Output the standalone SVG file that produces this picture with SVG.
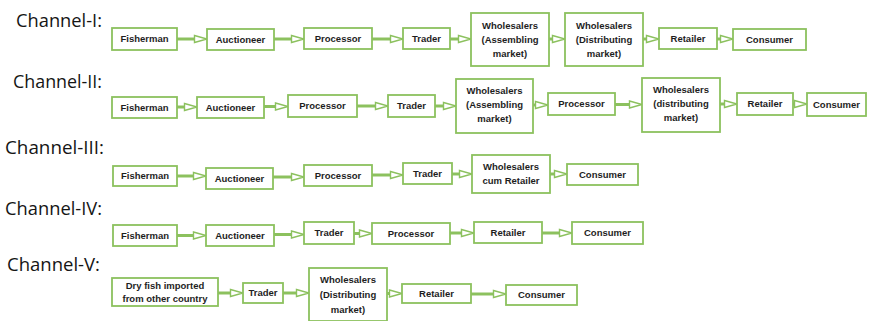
<svg xmlns="http://www.w3.org/2000/svg" width="869" height="321" viewBox="0 0 869 321">
  <style>
    .lbl { font-family: "Open Sans", "Liberation Sans", sans-serif; font-size: 18px; fill: #151515; }
    .box rect { fill: #ffffff; stroke: #8cc15e; stroke-width: 1.8; }
    .box text { font-family: "Liberation Sans", Arial, sans-serif; font-weight: bold; font-size: 9.5px; fill: #1e1e1e; text-anchor: middle; }
    .conn path { fill: none; stroke: #8cc15e; stroke-width: 3; }
  </style>
  <defs>
    <marker id="tri" markerUnits="userSpaceOnUse" markerWidth="16" markerHeight="10" refX="0" refY="5" orient="auto" overflow="visible">
      <path d="M0.5,1.5 L13,5 L0.5,8.5 Z" fill="#ffffff" stroke="#8cc15e" stroke-width="1.4"/>
    </marker>
  </defs>

  <rect width="869" height="321" fill="#ffffff"/>

  <!-- channel labels -->
  <text class="lbl" x="16" y="27" textLength="86" lengthAdjust="spacingAndGlyphs">Channel-I:</text>
  <text class="lbl" x="13" y="88" textLength="89" lengthAdjust="spacingAndGlyphs">Channel-II:</text>
  <text class="lbl" x="5" y="154" textLength="99" lengthAdjust="spacingAndGlyphs">Channel-III:</text>
  <text class="lbl" x="5" y="215" textLength="97" lengthAdjust="spacingAndGlyphs">Channel-IV:</text>
  <text class="lbl" x="7" y="271" textLength="93" lengthAdjust="spacingAndGlyphs">Channel-V:</text>

  <!-- connectors: line up to the arrowhead base, hollow triangle touches the next box -->
  <g id="connectors" class="conn">
    <!-- Channel I -->
    <path d="M177,39 H194" marker-end="url(#tri)"/>
    <path d="M274,39 H291" marker-end="url(#tri)"/>
    <path d="M372,39 H390" marker-end="url(#tri)"/>
    <path d="M450,39 H458" marker-end="url(#tri)"/>
    <path d="M549,39 H552" marker-end="url(#tri)"/>
    <path d="M643,39 H646" marker-end="url(#tri)"/>
    <path d="M717,39 H720" marker-end="url(#tri)"/>
    <!-- Channel II -->
    <path d="M177,107 H184" marker-end="url(#tri)"/>
    <path d="M264,106.5 H275" marker-end="url(#tri)"/>
    <path d="M357,106 H375" marker-end="url(#tri)"/>
    <path d="M435,106 H443" marker-end="url(#tri)"/>
    <path d="M533,105 H535" marker-end="url(#tri)"/>
    <path d="M615,104.5 H629" marker-end="url(#tri)"/>
    <path d="M720,104 H724" marker-end="url(#tri)"/>
    <path d="M793,104 H794" marker-end="url(#tri)"/>
    <!-- Channel III -->
    <path d="M177,176 H193" marker-end="url(#tri)"/>
    <path d="M273,177 H291" marker-end="url(#tri)"/>
    <path d="M372,175 H390" marker-end="url(#tri)"/>
    <path d="M452,174 H459" marker-end="url(#tri)"/>
    <path d="M550,174 H554" marker-end="url(#tri)"/>
    <!-- Channel IV -->
    <path d="M177,235.5 H193" marker-end="url(#tri)"/>
    <path d="M274,234.5 H291" marker-end="url(#tri)"/>
    <path d="M354,233.5 H359" marker-end="url(#tri)"/>
    <path d="M450,233 H461" marker-end="url(#tri)"/>
    <path d="M542,233 H559" marker-end="url(#tri)"/>
    <!-- Channel V -->
    <path d="M218,293 H230" marker-end="url(#tri)"/>
    <path d="M283,293 H296" marker-end="url(#tri)"/>
    <path d="M387,293.5 H389" marker-end="url(#tri)"/>
    <path d="M471,294 H493" marker-end="url(#tri)"/>
  </g>

  <!-- Channel I nodes -->
  <g id="c1-fisherman" class="box"><rect x="112" y="28" width="65" height="22"/><text x="144.5" y="42.4">Fisherman</text></g>
  <g id="c1-auctioneer" class="box"><rect x="207" y="29" width="67" height="21"/><text x="240.5" y="42.9">Auctioneer</text></g>
  <g id="c1-processor" class="box"><rect x="304" y="28" width="68" height="21"/><text x="338" y="41.9">Processor</text></g>
  <g id="c1-trader" class="box"><rect x="403" y="28" width="47" height="21"/><text x="426.5" y="41.9">Trader</text></g>
  <g id="c1-wholesalers-assembling" class="box"><rect x="471" y="13" width="78" height="53"/>
    <text x="510" y="28.9">Wholesalers</text><text x="510" y="42.9">(Assembling</text><text x="510" y="56.9">market)</text></g>
  <g id="c1-wholesalers-distributing" class="box"><rect x="565" y="13" width="78" height="53"/>
    <text x="604" y="28.9">Wholesalers</text><text x="604" y="42.9">(Distributing</text><text x="604" y="56.9">market)</text></g>
  <g id="c1-retailer" class="box"><rect x="659" y="28" width="58" height="21"/><text x="688" y="41.9">Retailer</text></g>
  <g id="c1-consumer" class="box"><rect x="733" y="29" width="73" height="21"/><text x="769.5" y="42.9">Consumer</text></g>

  <!-- Channel II nodes -->
  <g id="c2-fisherman" class="box"><rect x="112" y="97" width="65" height="21"/><text x="144.5" y="110.9">Fisherman</text></g>
  <g id="c2-auctioneer" class="box"><rect x="197" y="97" width="67" height="21"/><text x="230.5" y="110.9">Auctioneer</text></g>
  <g id="c2-processor" class="box"><rect x="288" y="95" width="69" height="22"/><text x="322.5" y="109.4">Processor</text></g>
  <g id="c2-trader" class="box"><rect x="388" y="95" width="47" height="22"/><text x="411.5" y="109.4">Trader</text></g>
  <g id="c2-wholesalers-assembling" class="box"><rect x="456" y="79" width="77" height="54"/>
    <text x="494.5" y="93.5">Wholesalers</text><text x="494.5" y="107.5">(Assembling</text><text x="494.5" y="121.5">market)</text></g>
  <g id="c2-processor-2" class="box"><rect x="548" y="93" width="67" height="22"/><text x="581.5" y="107.4">Processor</text></g>
  <g id="c2-wholesalers-distributing" class="box"><rect x="642" y="78" width="78" height="54"/>
    <text x="681" y="92.5">Wholesalers</text><text x="681" y="106.5">(distributing</text><text x="681" y="120.5">market)</text></g>
  <g id="c2-retailer" class="box"><rect x="737" y="93" width="56" height="22"/><text x="765" y="107.4">Retailer</text></g>
  <g id="c2-consumer" class="box"><rect x="807" y="93" width="59" height="23"/><text x="836.5" y="107.9">Consumer</text></g>

  <!-- Channel III nodes -->
  <g id="c3-fisherman" class="box"><rect x="113" y="166" width="64" height="20"/><text x="145" y="179.4">Fisherman</text></g>
  <g id="c3-auctioneer" class="box"><rect x="206" y="168" width="67" height="21"/><text x="239.5" y="181.9">Auctioneer</text></g>
  <g id="c3-processor" class="box"><rect x="304" y="165" width="68" height="21"/><text x="338" y="178.9">Processor</text></g>
  <g id="c3-trader" class="box"><rect x="403" y="163" width="49" height="21"/><text x="427.5" y="176.9">Trader</text></g>
  <g id="c3-wholesalers-retailer" class="box"><rect x="472" y="155" width="78" height="38"/>
    <text x="511" y="170.4">Wholesalers</text><text x="511" y="184.4">cum Retailer</text></g>
  <g id="c3-consumer" class="box"><rect x="567" y="164" width="71" height="21"/><text x="602.5" y="177.9">Consumer</text></g>

  <!-- Channel IV nodes -->
  <g id="c4-fisherman" class="box"><rect x="113" y="225" width="64" height="21"/><text x="145" y="238.9">Fisherman</text></g>
  <g id="c4-auctioneer" class="box"><rect x="206" y="225" width="68" height="21"/><text x="240" y="238.9">Auctioneer</text></g>
  <g id="c4-trader" class="box"><rect x="304" y="222" width="50" height="22"/><text x="329" y="236.4">Trader</text></g>
  <g id="c4-processor" class="box"><rect x="372" y="223" width="78" height="21"/><text x="411" y="236.9">Processor</text></g>
  <g id="c4-retailer" class="box"><rect x="474" y="222" width="68" height="21"/><text x="508" y="235.9">Retailer</text></g>
  <g id="c4-consumer" class="box"><rect x="572" y="222" width="71" height="22"/><text x="607.5" y="236.4">Consumer</text></g>

  <!-- Channel V nodes -->
  <g id="c5-dry-fish" class="box"><rect x="112" y="278" width="106" height="28"/>
    <text x="165" y="289">Dry fish imported</text><text x="165" y="302">from other country</text></g>
  <g id="c5-trader" class="box"><rect x="243" y="283" width="40" height="20"/><text x="263" y="296.4">Trader</text></g>
  <g id="c5-wholesalers-distributing" class="box"><rect x="309" y="268" width="78" height="53"/>
    <text x="348" y="283.4">Wholesalers</text><text x="348" y="298.4">(Distributing</text><text x="348" y="313.4">market)</text></g>
  <g id="c5-retailer" class="box"><rect x="402" y="284" width="69" height="19"/><text x="436.5" y="296.9">Retailer</text></g>
  <g id="c5-consumer" class="box"><rect x="506" y="285" width="71" height="20"/><text x="541.5" y="298.4">Consumer</text></g>
</svg>
